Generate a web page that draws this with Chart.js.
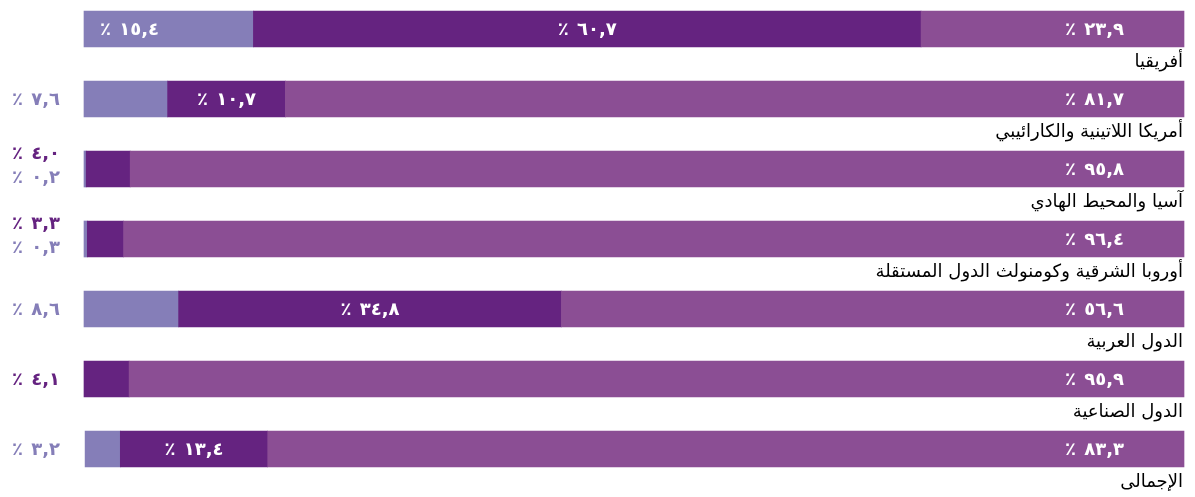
<!DOCTYPE html>
<html lang="ar">
<head>
<meta charset="utf-8">
<script src="https://cdn.jsdelivr.net/npm/chart.js@4.4.1/dist/chart.umd.min.js"></script>
<style>
  html, body { margin: 0; padding: 0; background: #ffffff; }
  #wrap { width: 1195px; height: 497px; position: relative; }
</style>
</head>
<body>
<div id="wrap"><canvas id="c"></canvas></div>
<script>
const categories = [
  "أفريقيا",
  "أمريكا اللاتينية والكارائيبي",
  "آسيا والمحيط الهادي",
  "أوروبا الشرقية وكومنولث الدول المستقلة",
  "الدول العربية",
  "الدول الصناعية",
  "الإجمالى"
];
const seriesMain  = [23.9, 81.7, 95.8, 96.4, 56.6, 95.9, 83.3];
const seriesDark  = [60.7, 10.7, 4.0, 3.3, 34.8, 4.1, 13.4];
const seriesLight = [15.4, 7.6, 0.2, 0.3, 8.6, null, 3.2];

const COL_MAIN = '#8b4e94';
const COL_DARK = '#652380';
const COL_LIGHT = '#857eb8';

const AR_DIGITS = '٠١٢٣٤٥٦٧٨٩';
function fmt(v) {
  const s = v.toFixed(1).replace('.', ',');
  const ar = s.replace(/[0-9]/g, d => AR_DIGITS[+d]);
  return '٪ ' + ar;
}

const labelPlugin = {
  id: 'labels',
  afterDatasetsDraw(chart) {
    const ctx = chart.ctx;
    const x = chart.scales.x;
    ctx.save();
    ctx.direction = 'ltr';
    ctx.textBaseline = 'middle';
    const numFont = 'bold 18px "DejaVu Sans"';
    for (let i = 0; i < categories.length; i++) {
      const mMain = chart.getDatasetMeta(0).data[i];
      const mDark = chart.getDatasetMeta(1).data[i];
      const mLight = chart.getDatasetMeta(2).data[i];
      const cy = mMain.y;
      const hh = mMain.height / 2;
      ctx.font = numFont;
      ctx.letterSpacing = '2px';
      ctx.fillStyle = '#ffffff';
      ctx.textAlign = 'right';
      ctx.fillText(fmt(seriesMain[i]), x.getPixelForValue(0) - 60, cy + 1);
      const outside = [];
      const dv = seriesDark[i];
      if (dv != null) {
        if (dv >= 10) {
          ctx.fillStyle = '#ffffff';
          ctx.textAlign = 'center';
          const cx = (mDark.x + mDark.base) / 2;
          ctx.fillText(fmt(dv), cx, cy + 1);
        } else outside.push([dv, COL_DARK]);
      }
      const lv = seriesLight[i];
      if (lv != null) {
        if (lv >= 10) {
          ctx.fillStyle = '#ffffff';
          ctx.textAlign = 'left';
          ctx.fillText(fmt(lv), Math.min(mLight.x, mLight.base) + 16, cy + 1);
        } else outside.push([lv, COL_LIGHT]);
      }
      ctx.textAlign = 'left';
      if (outside.length === 1) {
        ctx.fillStyle = outside[0][1];
        ctx.fillText(fmt(outside[0][0]), 12, cy + 1);
      } else if (outside.length === 2) {
        ctx.fillStyle = outside[0][1];
        ctx.fillText(fmt(outside[0][0]), 12, cy - hh + 3);
        ctx.fillStyle = outside[1][1];
        ctx.fillText(fmt(outside[1][0]), 12, cy + hh - 9);
      }
      ctx.letterSpacing = '0px';
      ctx.font = '18px "DejaVu Sans"';
      ctx.fillStyle = '#000000';
      ctx.textAlign = 'right';
      ctx.direction = 'rtl';
      ctx.fillText(categories[i], x.getPixelForValue(0) - 1, cy + hh + 15);
      ctx.direction = 'ltr';
    }
    ctx.restore();
  }
};

new Chart(document.getElementById('c'), {
  type: 'bar',
  data: {
    labels: categories,
    datasets: [
      { data: seriesMain, backgroundColor: COL_MAIN, clip: false },
      { data: seriesDark, backgroundColor: COL_DARK, clip: false },
      { data: seriesLight, backgroundColor: COL_LIGHT, clip: false }
    ]
  },
  options: {
    indexAxis: 'y',
    responsive: true,
    maintainAspectRatio: false,
    animation: false,
    layout: { padding: { left: 84, right: 11, top: 29, bottom: 48 } },
    datasets: { bar: { barThickness: 36, borderWidth: 0 } },
    plugins: { legend: { display: false }, tooltip: { enabled: false } },
    scales: {
      x: { stacked: true, reverse: true, min: 0, max: 100, display: false },
      y: { stacked: true, offset: false, display: false }
    }
  },
  plugins: [labelPlugin]
});
</script>
</body>
</html>
